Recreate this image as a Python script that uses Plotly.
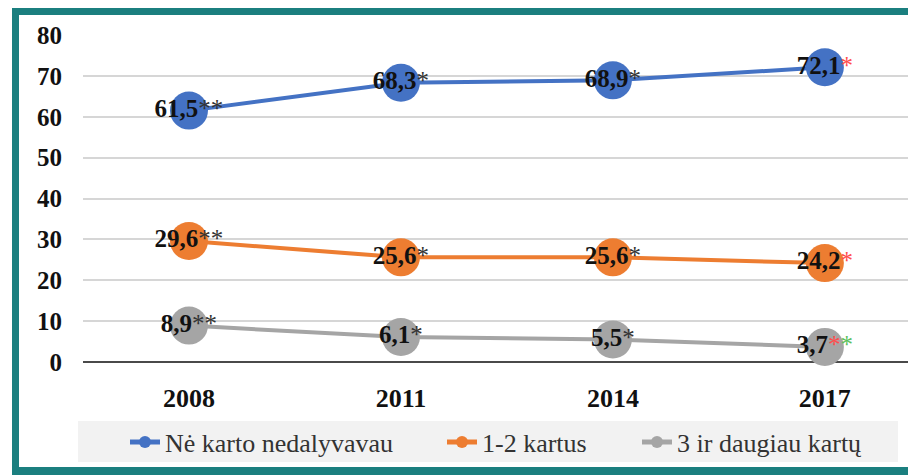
import plotly.graph_objects as go

# datos
years = ["2008", "2011", "2014", "2017"]
nei_karto = [61.5, 68.3, 68.9, 72.1]
kartus_1_2 = [29.6, 25.6, 25.6, 24.2]
daugiau_3 = [8.9, 6.1, 5.5, 3.7]

# zvaigzdutes prie reiksmiu
STAR = "<span style='font-weight:normal;color:#333333'>*</span>"
RED = "<span style='font-weight:normal;color:#ff4d4d'>*</span>"
GREEN = "<span style='font-weight:normal;color:#5cc15c'>*</span>"
stars_nei = [STAR * 2, STAR, STAR, RED]
stars_12 = [STAR * 2, STAR, STAR, RED]
stars_3 = [STAR * 2, STAR, STAR, RED + GREEN]

series_names = ["Nė karto nedalyvavau", "1-2 kartus", "3 ir daugiau kartų"]
colors = ["#4472C4", "#ED7D31", "#A5A5A5"]

# puslapio body turi 8px parasta
OFF = 8
W, H = 916 - OFF, 475 - OFF
ML, MR, MT, MB = 83 - OFF, 0, 35 - OFF, 475 - 362
SERIF = "Times New Roman, Liberation Serif, DejaVu Serif, serif"

# legendu teksto pradzia (puslapio px)
legend_text_x = [165, 482, 677]


# puslapio pixel -> paper koordinates
def px(x):
    return (x - OFF - ML) / (W - ML - MR)


def py(y):
    return (H - MB - (y - OFF)) / (H - MB - MT)


def label(v, s):
    return ("%.1f" % v).replace(".", ",") + s


fig = go.Figure()
legend_ids = ["legend", "legend2", "legend3"]
for name, vals, stars, col, lid in zip(series_names, [nei_karto, kartus_1_2, daugiau_3],
                                       [stars_nei, stars_12, stars_3], colors, legend_ids):
    fig.add_trace(go.Scatter(
        x=years, y=vals, name=name, mode="lines+markers+text",
        line=dict(color=col, width=4),
        marker=dict(color=col, size=38),
        text=[label(v, s) for v, s in zip(vals, stars)],
        textposition="middle center",
        textfont=dict(family=SERIF, size=25, color="#111111", weight="bold"),
        cliponaxis=False,
        legend=lid,
    ))

shapes = [
    # legendos fonas
    dict(type="rect", xref="paper", yref="paper", x0=px(78), x1=px(898), y0=py(462), y1=py(421),
         fillcolor="#f2f2f2", line_width=0, layer="below"),
    # remelis
    dict(type="rect", xref="paper", yref="paper", x0=px(12), x1=px(930), y0=py(15), y1=py(0),
         fillcolor="#1b7f7f", line_width=0),
    dict(type="rect", xref="paper", yref="paper", x0=px(12), x1=px(19), y0=py(480), y1=py(0),
         fillcolor="#1b7f7f", line_width=0),
    dict(type="rect", xref="paper", yref="paper", x0=px(12), x1=px(930), y0=py(480), y1=py(467),
         fillcolor="#1b7f7f", line_width=0),
]

legends = {}
for lid, tx in zip(legend_ids, legend_text_x):
    legends[lid] = dict(orientation="h", xref="container", yref="container",
                        x=(tx - 40 - OFF) / W, xanchor="left",
                        y=(H - (442 - OFF)) / H, yanchor="middle",
                        bgcolor="rgba(0,0,0,0)", itemsizing="constant",
                        font=dict(family=SERIF, size=26, color="#333333"))

fig.update_layout(
    width=W, height=H,
    margin=dict(l=ML, r=MR, t=MT, b=MB),
    paper_bgcolor="white", plot_bgcolor="white",
    font=dict(family=SERIF, color="#111111"),
    showlegend=True,
    xaxis=dict(type="category", range=[-0.5, 3.43], showgrid=False, showline=False,
               zeroline=False, ticks="", ticklabelstandoff=18,
               tickfont=dict(family=SERIF, size=26, color="#111111", weight="bold")),
    yaxis=dict(range=[0, 80], dtick=10, showgrid=True, gridcolor="#d6d6d6", gridwidth=2,
               zeroline=True, zerolinecolor="#4a4a4a", zerolinewidth=2, showline=False,
               ticks="", ticklabelstandoff=20,
               tickfont=dict(family=SERIF, size=25, color="#111111", weight="bold")),
    shapes=shapes,
    **legends,
)

fig.write_html("out.html")
